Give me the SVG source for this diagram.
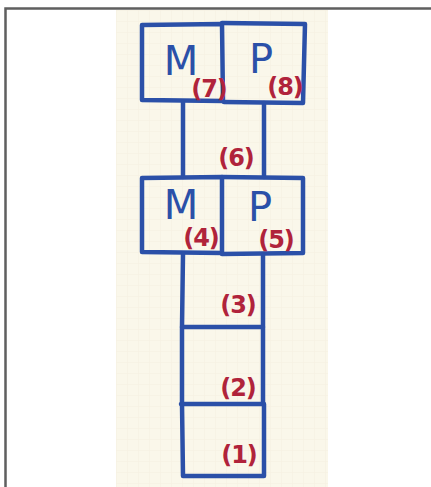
<svg xmlns="http://www.w3.org/2000/svg" width="431" height="487" viewBox="0 0 431 487">
  <defs>
    <pattern id="grid" width="11" height="11" patternUnits="userSpaceOnUse" x="116" y="10">
      <path d="M0,0 H11 M0,0 V11" fill="none" stroke="#f0ebda" stroke-width="0.6"/>
    </pattern>
    <style>
      .ink { fill: none; stroke: #2b50a8; stroke-width: 4.5; stroke-linejoin: round; stroke-linecap: round; }
      .let { font-family: "DejaVu Sans", sans-serif; font-size: 40px; fill: #2b50a8; text-anchor: middle; }
      .num { font-family: "DejaVu Sans", sans-serif; font-weight: bold; font-size: 24px; fill: #b0233b; text-anchor: middle; letter-spacing: -1px; }
    </style>
  </defs>
  <rect x="0" y="0" width="431" height="487" fill="#ffffff"/>
  <path d="M5.5,487 V8.5 H431" fill="none" stroke="#5f5f5f" stroke-width="2.5"/>
  <rect x="116" y="10" width="212" height="477" fill="#faf7ea"/>
  <rect x="116" y="10" width="212" height="477" fill="url(#grid)"/>

  <g id="cell7">
    <path class="ink" d="M142,25 L222,24 L223,101 L142,100 Z"/>
    <text class="let" x="181" y="75">M</text>
    <text class="num" x="209" y="97">(7)</text>
  </g>
  <g id="cell8">
    <path class="ink" d="M222,23 L305,24 L303,103 L224,102"/>
    <text class="let" x="261" y="73">P</text>
    <text class="num" x="285" y="95">(8)</text>
  </g>
  <g id="cell6">
    <path class="ink" d="M183,102 L183,177 M264,103 L264,177"/>
    <text class="num" x="236" y="166">(6)</text>
  </g>
  <g id="cell4">
    <path class="ink" d="M142,178 L222,177 L222,253 L142,252 Z"/>
    <text class="let" x="181" y="219">M</text>
    <text class="num" x="201" y="246">(4)</text>
  </g>
  <g id="cell5">
    <path class="ink" d="M222,177 L303,178 L303,253 L222,254"/>
    <text class="let" x="260" y="221">P</text>
    <text class="num" x="276" y="248">(5)</text>
  </g>
  <g id="cell3">
    <path class="ink" d="M183,254 L182,327 M263,255 L263,327 L182,327"/>
    <text class="num" x="238" y="313">(3)</text>
  </g>
  <g id="cell2">
    <path class="ink" d="M182,327 L182,404 M263,327 L263,404 L181,404"/>
    <text class="num" x="238" y="396">(2)</text>
  </g>
  <g id="cell1">
    <path class="ink" d="M182,404 L183,476 L264,476 L264,404"/>
    <text class="num" x="239" y="463">(1)</text>
  </g>
</svg>
